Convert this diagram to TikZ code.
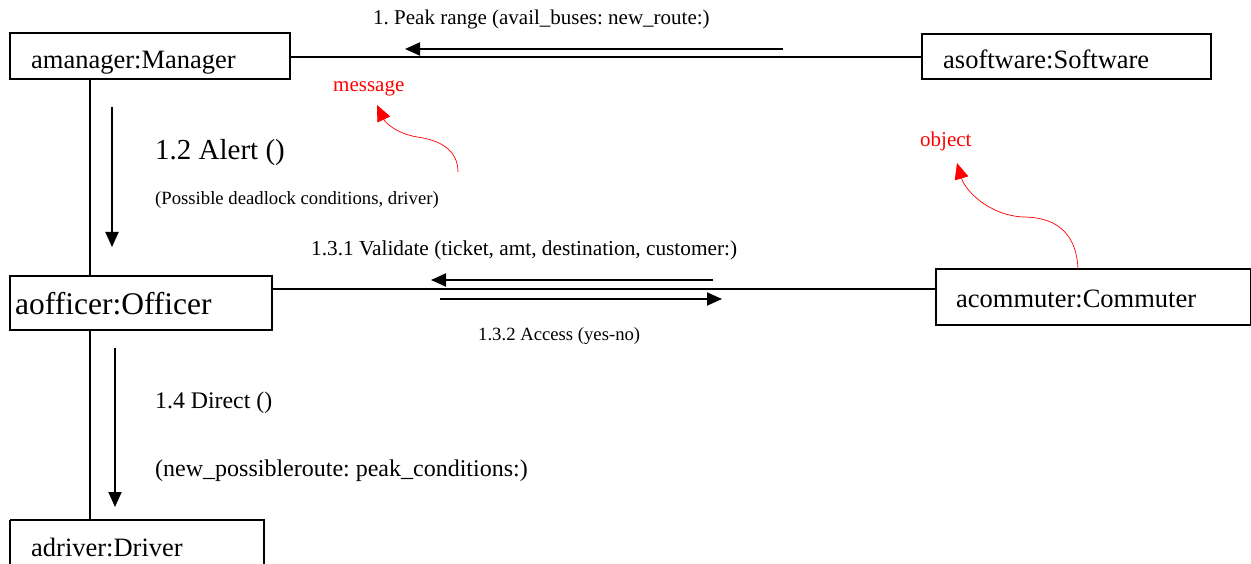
\documentclass[tikz,border=0pt]{standalone}
\usepackage{fontspec}
\setmainfont{Liberation Serif}
\frenchspacing
\usetikzlibrary{arrows.meta}
\begin{document}
\begin{tikzpicture}[x=1pt,y=-1pt,
  frame/.style={line width=1.9pt},
  link/.style={line width=1.9pt},
  msgarrow/.style={line width=1.9pt,-{Triangle[length=15pt,width=13pt]}},
  txt/.style={anchor=base west,inner sep=0pt},
  note/.style={red,line width=0.7pt,-{Triangle[length=16pt,width=14pt]}}]
\useasboundingbox (0,0) rectangle (1251,564);

% object boxes
\draw[frame] (10,33) rectangle (290,79);
\coordinate (mgrR) at (290,57);
\coordinate (mgrB) at (90,79);
\node[txt,font=\fontsize{26.5}{30}\selectfont] (mgr) at (31,69) {amanager:Manager};

\draw[frame] (922,34) rectangle (1211,79);
\coordinate (swL) at (922,57);
\node[txt,font=\fontsize{26.5}{30}\selectfont] (sw) at (943,69) {asoftware:Software};

\draw[frame] (10,276) rectangle (272,330);
\coordinate (offT) at (90,276);
\coordinate (offR) at (272,289);
\coordinate (offB) at (90,330);
\node[txt,font=\fontsize{31.5}{34}\selectfont] (off) at (15,314) {aofficer:Officer};

\draw[frame] (936,269) rectangle (1251,325);
\coordinate (comL) at (936,289);
\coordinate (comT) at (1078,269);
\node[txt,font=\fontsize{26.5}{30}\selectfont] (com) at (956,308) {acommuter:Commuter};

\draw[frame] (10,520) -- (10,566) (264,566) -- (264,520) -- (10,520);
\coordinate (drvT) at (90,520);
\node[txt,font=\fontsize{26.5}{30}\selectfont] (drv) at (31,556) {adriver:Driver};

% links between objects
\draw[link] (mgrR) -- (swL);
\draw[link] (mgrB) -- (offT);
\draw[link] (offR) -- (comL);
\draw[link] (offB) -- (drvT);

% messages
\coordinate (m1s) at (783,49);
\coordinate (m1e) at (405,49);
\draw[msgarrow] (m1s) -- (m1e);
\node[txt,font=\fontsize{21}{24}\selectfont] (m1) at (373,25) {1. Peak range (avail\_buses: new\_route:)};

\coordinate (m12s) at (112,107);
\coordinate (m12e) at (112,247);
\draw[msgarrow] (m12s) -- (m12e);
\node[txt,font=\fontsize{29}{32}\selectfont] (m12) at (155,160) {1.2 Alert ()};
\node[txt,font=\fontsize{18.7}{22}\selectfont] (m12a) at (155,205) {(Possible deadlock conditions, driver)};

\coordinate (m131s) at (713,280);
\coordinate (m131e) at (431,280);
\draw[msgarrow] (m131s) -- (m131e);
\node[txt,font=\fontsize{21.3}{24}\selectfont] (m131) at (311,256) {1.3.1 Validate (ticket, amt, destination, customer:)};

\coordinate (m132s) at (440,299);
\coordinate (m132e) at (722,299);
\draw[msgarrow] (m132s) -- (m132e);
\node[txt,font=\fontsize{18.7}{22}\selectfont] (m132) at (478,340) {1.3.2 Access (yes-no)};

\coordinate (m14s) at (115,348);
\coordinate (m14e) at (115,507);
\draw[msgarrow] (m14s) -- (m14e);
\node[txt,font=\fontsize{23.8}{27}\selectfont] (m14) at (155,408) {1.4 Direct ()};
\node[txt,font=\fontsize{24}{27}\selectfont] (m14a) at (155,476) {(new\_possibleroute: peak\_conditions:)};

% annotations
\node[txt,red,font=\fontsize{21}{24}\selectfont] (lblmsg) at (333,92) {message};
\coordinate (msgfrom) at (458,172);
\coordinate (msgto) at (377,105);
\draw[note] (msgfrom) .. controls (458,150) and (440,140) .. (417,137)
  .. controls (395,133) and (385,122) .. (msgto);

\node[txt,red,font=\fontsize{21}{24}\selectfont] (lblobj) at (920,147) {object};
\draw[note] (comT) .. controls (1076,222) and (1042,217) .. (1023,217)
  .. controls (988,215) and (965,190) .. (957,163);
\end{tikzpicture}
\end{document}
